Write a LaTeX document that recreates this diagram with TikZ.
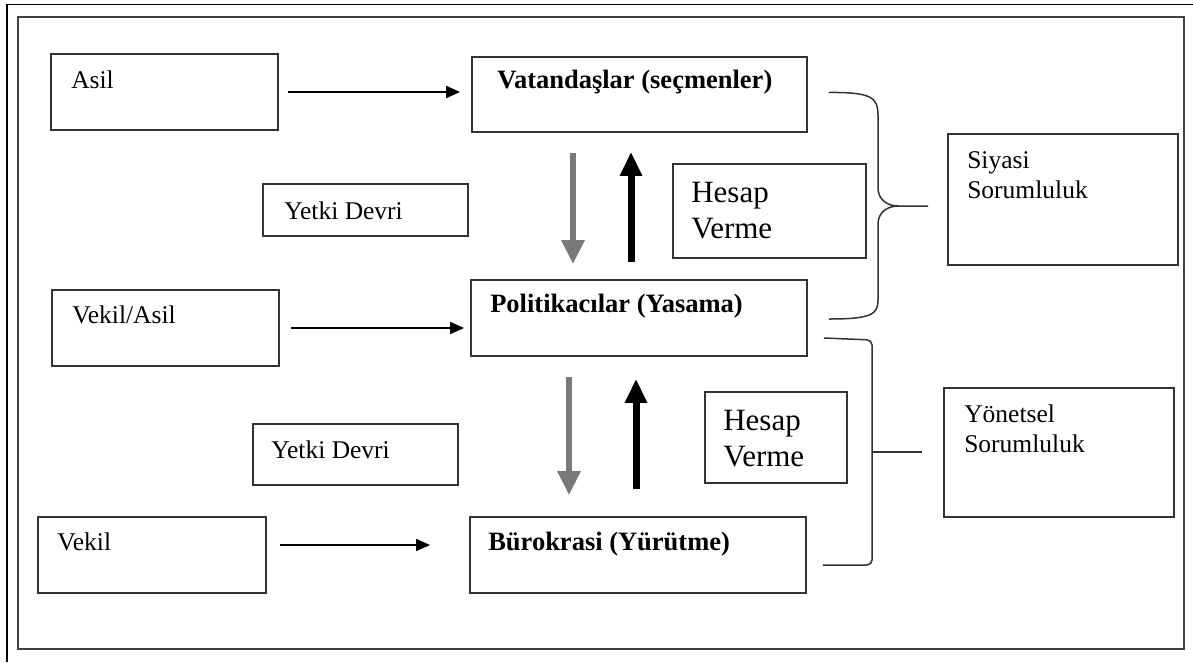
\documentclass[tikz,border=0pt]{standalone}
\usepackage{fontspec}
\setmainfont{Liberation Serif}
\usetikzlibrary{arrows.meta,positioning,calc}

\tikzset{
  box/.style={draw=black!80, line width=1.8pt, inner sep=0pt},
  txt/.style={anchor=base west, inner sep=0pt, align=left, font=\fontsize{25.5}{30}\selectfont},
  bold/.style={txt, font=\fontsize{26.5}{30}\selectfont\bfseries},
  big/.style={txt, font=\fontsize{31}{36}\selectfont},
  flow/.style={line width=1.6pt, -{Triangle[width=12pt,length=14pt]}},
  down/.style={line width=6pt, gray!95!black, -{Triangle[width=22pt,length=24pt]}},
  up/.style={line width=7pt, black, -{Triangle[width=21pt,length=24pt]}},
  brace/.style={line width=1.5pt, black!80}
}

\begin{document}
\begin{tikzpicture}[x=1pt, y=-1pt]
			\useasboundingbox (0,0) rectangle (1193,662);
			% Page frame
			\draw[line width=1.4pt] (7,662) -- (7,4.5) -- (1193,4.5);
			\draw[line width=2pt, black!75] (18,17) rectangle (1184,649);
			
			% Left column
			\node[box, minimum width=227pt, minimum height=76pt] (asil) at (164.5,92) {};
			\node[box, minimum width=227pt, minimum height=76pt] (vekasil) at (165.5,328) {};
			\node[box, minimum width=228pt, minimum height=76pt] (vekil) at (152,555) {};
			\node[txt] (asilT) at ([shift={(21,35)}]asil.north west) {Asil};
			\node[txt] (vekasilT) at ([shift={(21,34)}]vekasil.north west) {Vekil/Asil};
			\node[txt] (vekilT) at ([shift={(20,34)}]vekil.north west) {Vekil};
			
			% Middle column
			\node[box, minimum width=335pt, minimum height=75pt] (vatan) at (639.5,94.5) {};
			\node[box, minimum width=336pt, minimum height=76pt] (polit) at (639,318) {};
			\node[box, minimum width=336pt, minimum height=76pt] (burok) at (638,555) {};
			\node[bold] (vatanT) at ([shift={(26,32)}]vatan.north west) {Vatandaşlar (seçmenler)};
			\node[bold] (politT) at ([shift={(20,33)}]polit.north west) {Politikacılar (Yasama)};
			\node[bold] (burokT) at ([shift={(19,34)}]burok.north west) {Bürokrasi (Yürütme)};
			
			% Yetki devri / hesap verme
			\node[box, minimum width=205pt, minimum height=52pt] (yetki1) at (365.5,210) {};
			\node[box, minimum width=205pt, minimum height=61pt] (yetki2) at (355.5,454.5) {};
			\node[txt] (yetki1T) at ([shift={(22,36)}]yetki1.north west) {Yetki Devri};
			\node[txt] (yetki2T) at ([shift={(19,35)}]yetki2.north west) {Yetki Devri};
			\node[box, minimum width=193pt, minimum height=94pt] (hesap1) at (769.5,211) {};
			\node[box, minimum width=142pt, minimum height=91pt] (hesap2) at (776,437.5) {};
			\node[big] (hesap1T) at ([shift={(19,75)}]hesap1.north west) {Hesap\\Verme};
			\node[big] (hesap2T) at ([shift={(19,75)}]hesap2.north west) {Hesap\\Verme};
			
			% Right column
			\node[box, minimum width=230pt, minimum height=131pt] (siyasi) at (1063,199.5) {};
			\node[box, minimum width=230pt, minimum height=129pt] (yonet) at (1059,452.5) {};
			\node[txt] (siyasiT) at ([shift={(20,65)}]siyasi.north west) {Siyasi\\Sorumluluk};
			\node[txt] (yonetT) at ([shift={(21,65)}]yonet.north west) {Yönetsel\\Sorumluluk};
			
			% Horizontal arrows
			\draw[flow] ([xshift=9pt]asil.east) -- ([xshift=-11pt]asil.east -| vatan.west);
			\draw[flow] ([xshift=11pt]vekasil.east) -- ([xshift=-6pt]vekasil.east -| polit.west);
			\draw[flow] ([shift={(13,-10)}]vekil.east) -- ([shift={(-39,-10)}]vekil.east -| burok.west);
			
			% Vertical arrows
			\draw[down, shorten <=20pt, shorten >=15pt] ([xshift=-66.5pt]vatan.south) -- ([xshift=-66.5pt]vatan.south |- polit.north);
			\draw[up, shorten <=17pt, shorten >=19pt] ([xshift=-8.5pt]vatan.south |- polit.north) -- ([xshift=-8.5pt]vatan.south);
			\draw[down, shorten <=20pt, shorten >=21pt] ([xshift=-70pt]polit.south) -- ([xshift=-70pt]polit.south |- burok.north);
			\draw[up, shorten <=27pt, shorten >=22pt] ([xshift=-3pt]polit.south |- burok.north) -- ([xshift=-3pt]polit.south);
			
			% Braces
			\coordinate (tip1) at (928,206);
			\coordinate (tip2) at (922,452);
			\draw[brace] ([shift={(21,-2)}]vatan.east) .. controls (872,92) and (878,98) .. (878,115) -- (878,188)
			  .. controls (878,200) and (888,206) .. (898,206) -- (tip1);
			\draw[brace] (898,206) .. controls (888,206) and (878,212) .. (878,224) -- (878,300)
			  .. controls (878,314) and (872,319) .. ([shift={(21,1)}]polit.east);
			\draw[brace, rounded corners=5pt] ([shift={(16,20)}]polit.east) -- (872,340) -- (872,565) -- ([shift={(16,10)}]burok.east);
			\draw[brace] (872,452) -- (tip2);
		\end{tikzpicture}
\end{document}
